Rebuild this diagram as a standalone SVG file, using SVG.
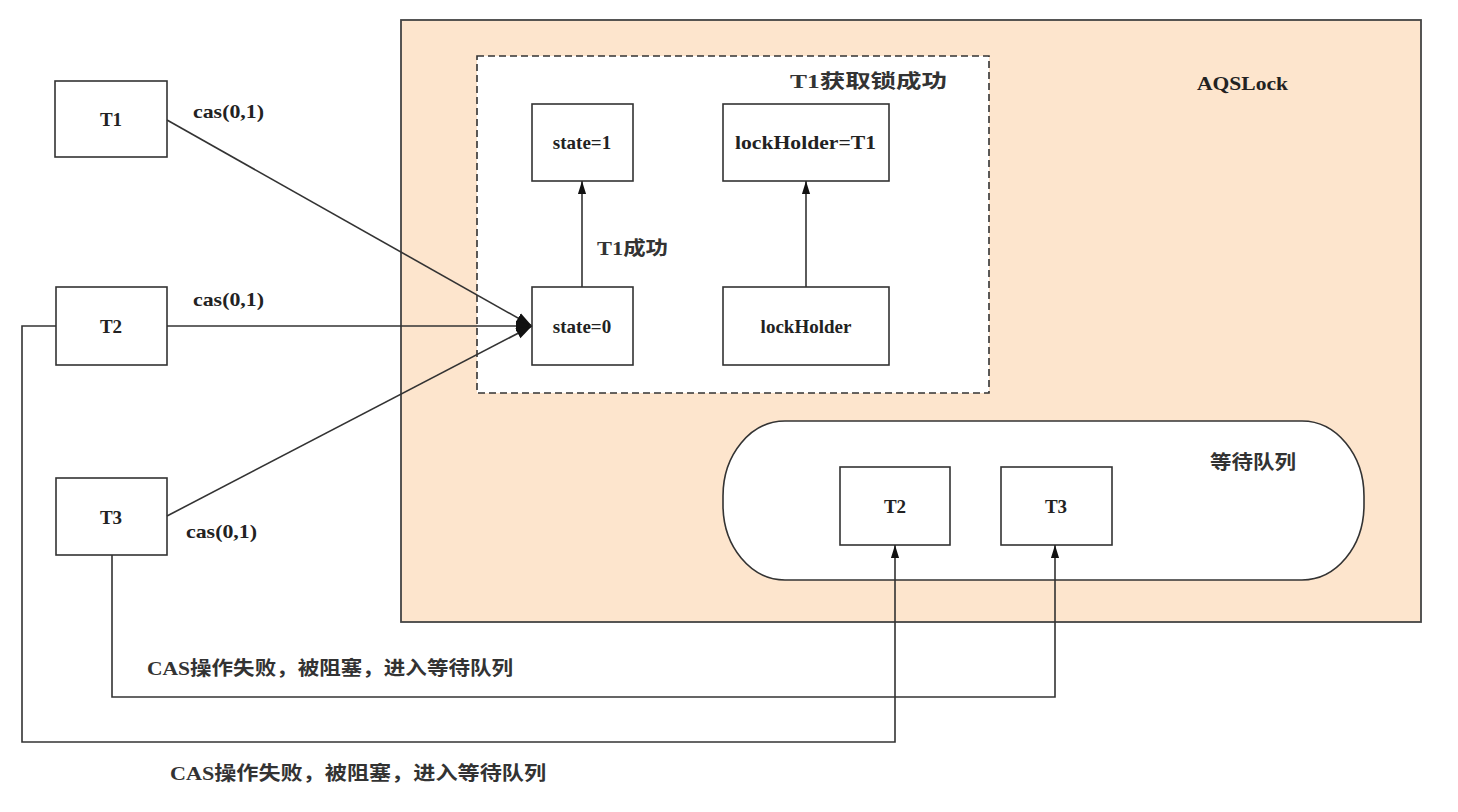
<svg xmlns="http://www.w3.org/2000/svg" width="1458" height="812" viewBox="0 0 1458 812">
<style>
.box{fill:#fff;stroke:#333;stroke-width:1.6}
.t{font-family:"Liberation Serif","Noto Sans CJK SC",serif;font-weight:bold;font-size:19px;fill:#222}
.c{font-family:"Liberation Serif","Noto Sans CJK SC",serif;font-weight:bold;font-size:19px;fill:#333}
.ln{fill:none;stroke:#333;stroke-width:1.6}
</style>
<defs>
<marker id="ah" viewBox="0 0 10 10" refX="10" refY="5" markerWidth="13" markerHeight="9" markerUnits="userSpaceOnUse" orient="auto" preserveAspectRatio="none">
<path d="M0,0.5 L10,5 L0,9.5 z" fill="#111"/>
</marker>
<marker id="ah2" viewBox="0 0 10 10" refX="10" refY="5" markerWidth="16" markerHeight="14" markerUnits="userSpaceOnUse" orient="auto" preserveAspectRatio="none">
<path d="M0,1 L10,5 L0,9 z" fill="#111"/>
</marker>
</defs>
<rect width="1458" height="812" fill="#fff"/>
<g id="aqslock">
<rect x="401" y="20" width="1020" height="602" fill="#fde5cd" stroke="#444" stroke-width="1.8"/>
<text class="t" x="1197" y="90" textLength="91" lengthAdjust="spacingAndGlyphs">AQSLock</text>
</g>
<g id="success-group">
<rect x="477" y="56" width="512" height="337" fill="#fff" stroke="#333" stroke-width="1.6" stroke-dasharray="7,4"/>
<text class="c" x="790" y="88" textLength="157" lengthAdjust="spacingAndGlyphs">T1获取锁成功</text>
</g>
<g id="queue">
<rect x="723" y="421" width="641" height="159" rx="62" ry="75" fill="#fff" stroke="#333" stroke-width="1.6"/>
<text class="c" x="1210" y="469" textLength="86" lengthAdjust="spacingAndGlyphs">等待队列</text>
</g>
<g id="T1"><rect class="box" x="55" y="81" width="112" height="76"/><text class="t" x="111" y="126" text-anchor="middle">T1</text></g>
<g id="T2"><rect class="box" x="56" y="287" width="111" height="78"/><text class="t" x="111" y="333" text-anchor="middle">T2</text></g>
<g id="T3"><rect class="box" x="56" y="478" width="111" height="77"/><text class="t" x="111" y="524" text-anchor="middle">T3</text></g>
<g id="state1"><rect class="box" x="532" y="104" width="101" height="77"/><text class="t" x="582" y="149" text-anchor="middle">state=1</text></g>
<g id="lockHolderT1"><rect class="box" x="723" y="104" width="166" height="77"/><text class="t" x="735" y="149" textLength="141" lengthAdjust="spacingAndGlyphs">lockHolder=T1</text></g>
<g id="state0"><rect class="box" x="532" y="287" width="101" height="78"/><text class="t" x="582" y="333" text-anchor="middle">state=0</text></g>
<g id="lockHolder"><rect class="box" x="723" y="287" width="166" height="78"/><text class="t" x="806" y="333" text-anchor="middle">lockHolder</text></g>
<g id="qT2"><rect class="box" x="840" y="467" width="110" height="78"/><text class="t" x="895" y="513" text-anchor="middle">T2</text></g>
<g id="qT3"><rect class="box" x="1001" y="467" width="111" height="78"/><text class="t" x="1056" y="513" text-anchor="middle">T3</text></g>
<g id="connectors">
<line class="ln" x1="167" y1="120" x2="532" y2="326" marker-end="url(#ah2)"/>
<line class="ln" x1="167" y1="326" x2="532" y2="326" marker-end="url(#ah2)"/>
<line class="ln" x1="167" y1="516" x2="532" y2="326" marker-end="url(#ah2)"/>
<line class="ln" x1="582" y1="287" x2="582" y2="181" marker-end="url(#ah)"/>
<line class="ln" x1="806" y1="287" x2="806" y2="181" marker-end="url(#ah)"/>
<polyline class="ln" points="112,555 112,697 1055,697 1055,545" marker-end="url(#ah)"/>
<polyline class="ln" points="56,326 22,326 22,742 895,742 895,545" marker-end="url(#ah)"/>
<text class="t" x="193" y="118" textLength="71" lengthAdjust="spacingAndGlyphs">cas(0,1)</text>
<text class="t" x="193" y="306" textLength="71" lengthAdjust="spacingAndGlyphs">cas(0,1)</text>
<text class="t" x="186" y="538" textLength="71" lengthAdjust="spacingAndGlyphs">cas(0,1)</text>
<text class="c" x="597" y="255" textLength="71" lengthAdjust="spacingAndGlyphs">T1成功</text>
<text class="c" x="147" y="675" textLength="366" lengthAdjust="spacingAndGlyphs">CAS操作失败，被阻塞，进入等待队列</text>
<text class="c" x="170" y="780" textLength="376" lengthAdjust="spacingAndGlyphs">CAS操作失败，被阻塞，进入等待队列</text>
</g>
</svg>
